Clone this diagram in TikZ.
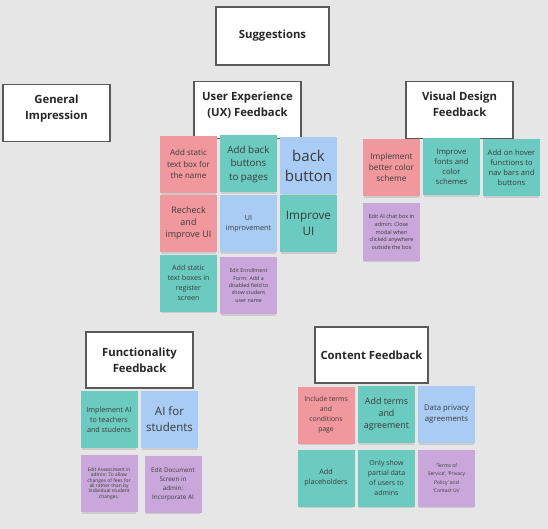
\documentclass[tikz,border=0pt]{standalone}
\usepackage{fontspec}
\setmainfont{Open Sans}
\usetikzlibrary{shadows}
\definecolor{board}{HTML}{E6E6E6}
\definecolor{notepink}{HTML}{F1979E}
\definecolor{noteteal}{HTML}{6BCBC1}
\definecolor{noteblue}{HTML}{A9CCF5}
\definecolor{notepurple}{HTML}{C9A7DA}
\definecolor{inktext}{HTML}{3A3A3A}
\newcommand{\fs}[2]{\fontsize{#1pt}{#2pt}\selectfont}
\tikzset{
  hdr/.style={draw=black!65, line width=1.3pt, fill=white, minimum width=107pt, minimum height=57pt,
    align=center, inner sep=2pt, text=black!85, font=\bfseries\fs{11.3}{16}},
  raised/.style={text depth=12pt},
  sticky/.style={minimum width=57pt, minimum height=57pt, inner sep=1pt, align=center, text=inktext,
    drop shadow={shadow xshift=0pt, shadow yshift=-3pt, shadow scale=0.96, opacity=0.25}},
  pinknote/.style={sticky, fill=notepink},
  tealnote/.style={sticky, fill=noteteal},
  bluenote/.style={sticky, fill=noteblue},
  purplenote/.style={sticky, fill=notepurple},
}
\begin{document}
\begin{tikzpicture}[x=1pt,y=-1pt]
    \fill[board] (0,0) rectangle (548,529);
    \useasboundingbox (0,0) rectangle (548,529);

    % headings
    \node[hdr, minimum width=113pt, minimum height=58pt] (suggestions) at (272.5,36) {Suggestions};
    \node[hdr, raised] (general) at (56.5,113) {General\\Impression};
    \node[hdr, raised] (ux) at (247.5,110) {User Experience\\(UX) Feedback};
    \node[hdr, raised] (visual) at (459.5,110) {Visual Design\\Feedback};
    \node[hdr, minimum height=56pt] (function) at (139.5,360) {Functionality\\Feedback};
    \node[hdr, minimum width=113pt, minimum height=56pt] (content) at (371.5,355) {Content Feedback};

    % user experience notes
    \node[pinknote, font=\fs{8}{11.5}] (uxa) at (188.5,164.5) {Add static\\text box for\\the name};
    \node[tealnote, font=\fs{9.8}{13.5}] (uxb) at (248.5,164) {Add back\\buttons\\to pages};
    \node[bluenote, font=\fs{15}{20}] (uxc) at (308.5,165.5) {back\\button};
    \node[pinknote, font=\fs{9}{12}] (uxd) at (188.5,223.5) {Recheck\\and\\improve UI};
    \node[bluenote, font=\fs{7.2}{10}] (uxe) at (248.5,223.5) {UI\\improvement};
    \node[tealnote, font=\fs{11.7}{16}] (uxf) at (308.5,223.5) {Improve\\UI};
    \node[tealnote, font=\fs{7.1}{10}] (uxg) at (188.5,283) {Add static\\text boxes in\\register\\screen};
    \node[purplenote, font=\fs{5.3}{7.3}] (uxh) at (248.5,285.5) {Edit Enrollment\\Form: Add a\\disabled field to\\show student\\user name};

    % visual design notes
    \node[pinknote, font=\fs{8.3}{11}] (vda) at (391.5,167.5) {Implement\\better color\\scheme};
    \node[tealnote, font=\fs{7.7}{10}] (vdb) at (451.5,167) {Improve\\fonts and\\color\\schemes};
    \node[tealnote, font=\fs{7.6}{10}] (vdc) at (511.5,167.5) {Add on hover\\functions to\\nav bars and\\buttons};
    \node[purplenote, font=\fs{5.5}{7.6}] (vdd) at (391.5,232) {Edit AI chat box in\\admin: Close\\modal when\\clicked anywhere\\outside the box};

    % functionality notes
    \node[tealnote, font=\fs{7.2}{10}] (fna) at (109,419.5) {Implement AI\\to teachers\\and students};
    \node[bluenote, font=\fs{11.5}{16}] (fnb) at (169.5,419.5) {AI for\\students};
    \node[purplenote, font=\fs{4.9}{5.4}] (fnc) at (109,483.5) {Edit Assessment in\\admin: To allow\\changes of fees for\\all rather than by\\individual student\\changes.};
    \node[purplenote, font=\fs{6.3}{9}] (fnd) at (173,484) {Edit Document\\Screen in\\admin:\\Incorporate AI};

    % content notes
    \node[pinknote, font=\fs{6.8}{10}] (cta) at (326,415) {Include terms\\and\\conditions\\page};
    \node[tealnote, font=\fs{8.9}{12}] (ctb) at (386.5,414.5) {Add terms\\and\\agreement};
    \node[bluenote, font=\fs{7.8}{11}] (ctc) at (446.5,414.5) {Data privacy\\agreements};
    \node[tealnote, font=\fs{7.2}{10}] (ctd) at (326,478) {Add\\placeholders};
    \node[tealnote, font=\fs{7}{10}] (cte) at (386.5,478) {Only show\\partial data\\of users to\\admins};
    \node[purplenote, font=\fs{5}{8.5}] (ctf) at (446.5,478) {`Terms of\\Service', `Privacy\\Policy' and\\`Contact Us'};
\end{tikzpicture}
\end{document}
